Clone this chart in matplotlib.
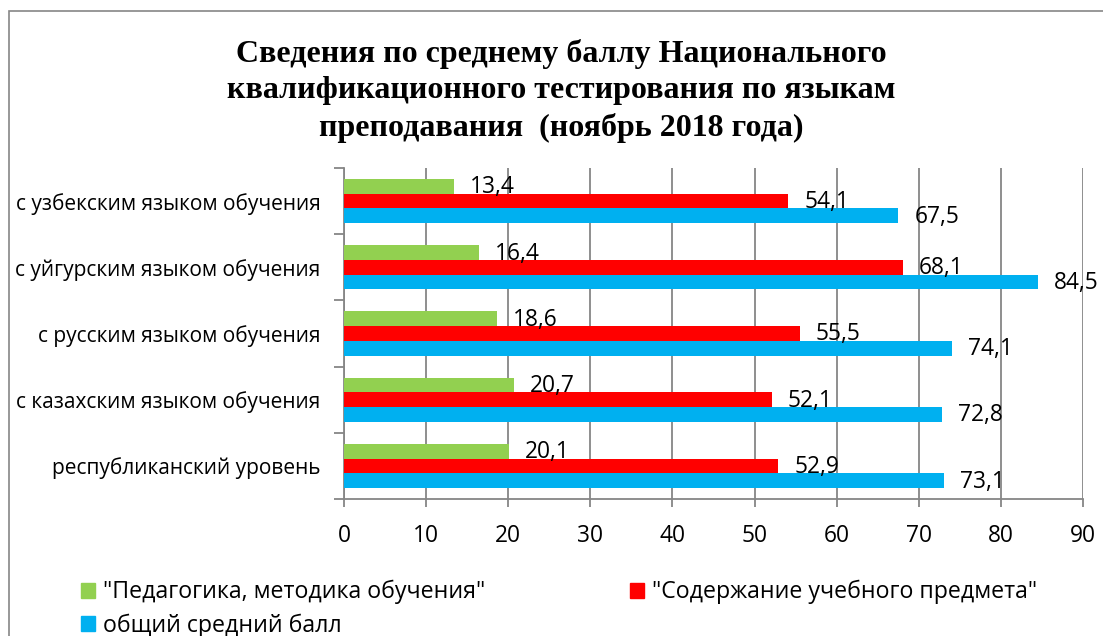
import matplotlib
matplotlib.use("Agg")
import matplotlib.pyplot as plt
from matplotlib.patches import Patch, Rectangle
from matplotlib.ticker import FixedLocator, NullFormatter

categories = [
    "республиканский уровень",
    "с казахским языком обучения",
    "с русским языком обучения",
    "с уйгурским языком обучения",
    "с узбекским языком обучения",
]
pedagogy = [20.1, 20.7, 18.6, 16.4, 13.4]
subject = [52.9, 52.1, 55.5, 68.1, 54.1]
overall = [73.1, 72.8, 74.1, 84.5, 67.5]

series_names = [
    '"Педагогика, методика обучения"',
    '"Содержание учебного предмета"',
    "общий средний балл",
]
colors = ["#92D050", "#FF0000", "#00B0F0"]
x_ticks = list(range(0, 91, 10))

title = ("Сведения по среднему баллу Национального\n"
         "квалификационного тестирования по языкам\n"
         "преподавания  (ноябрь 2018 года)")

W, H = 1103, 636
fig = plt.figure(figsize=(W / 100, H / 100), dpi=100)
fig.patch.set_facecolor("white")

label_font = ["Open Sans", "DejaVu Sans"]
fs_cat = 15
fs_num = 16.4
fs_leg = 16.7

# outer chart frame
fig.patches.append(Rectangle((9 / W, -0.1), 1.2, 1 - 11 / H + 0.1,
                             transform=fig.transFigure, fill=False,
                             edgecolor="#868686", linewidth=1.2))

fig.text(561 / W, 1 - 91 / H, title, ha="center", va="center",
         family="Liberation Serif", weight="bold", fontsize=23,
         linespacing=1.32)

ax = fig.add_axes([344 / W, 1 - 499 / H, (1083 - 344) / W, (499 - 168) / H])

h = 0.222
ys = list(range(len(categories)))
series = [pedagogy, subject, overall]
offsets = [h, 0, -h]
for vals, off, col, name in zip(series, offsets, colors, series_names):
    pos = [y + off for y in ys]
    ax.barh(pos, vals, height=h, color=col, label=name, zorder=3)
    for p, v in zip(pos, vals):
        ax.annotate(f"{v:.1f}".replace(".", ","), xy=(v, p),
                    xytext=(16, -1), textcoords="offset pixels",
                    ha="left", va="center", fontsize=fs_num,
                    family=label_font, zorder=4)

ax.set_xlim(0, 90)
ax.set_ylim(-0.5, len(categories) - 0.5)
ax.set_xticks(x_ticks)
ax.set_xticklabels([str(t) for t in x_ticks], family=label_font, fontsize=fs_num)
ax.grid(axis="x", color="#868686", linewidth=1.3, zorder=0)

ax.yaxis.set_major_locator(FixedLocator([y - 0.5 for y in ys] + [ys[-1] + 0.5]))
ax.yaxis.set_major_formatter(NullFormatter())
ax.set_yticks(ys, minor=True)
ax.set_yticklabels(categories, minor=True, family=label_font, fontsize=fs_cat)
ax.tick_params(axis="y", which="minor", length=0, pad=17)
ax.tick_params(axis="y", which="major", length=7, color="#868686", width=1.3)
ax.tick_params(axis="x", length=6, color="#868686", width=1.3, pad=12)

for s in ("top", "right"):
    ax.spines[s].set_visible(False)
for s in ("left", "bottom"):
    ax.spines[s].set_color("#868686")
    ax.spines[s].set_linewidth(1.3)

handles = [Patch(color=c) for c in colors]
order = [0, 2, 1]
fig.legend([handles[i] for i in order], [series_names[i] for i in order],
           loc="upper left", bbox_to_anchor=(81 / W, 1 - 580 / H), ncol=2,
           frameon=False, prop={"family": label_font, "size": fs_leg},
           handlelength=0.6, handleheight=0.6, handletextpad=0.35,
           columnspacing=6.25, labelspacing=0.4, borderpad=0, borderaxespad=0)

fig.savefig("out.png", dpi=100)
